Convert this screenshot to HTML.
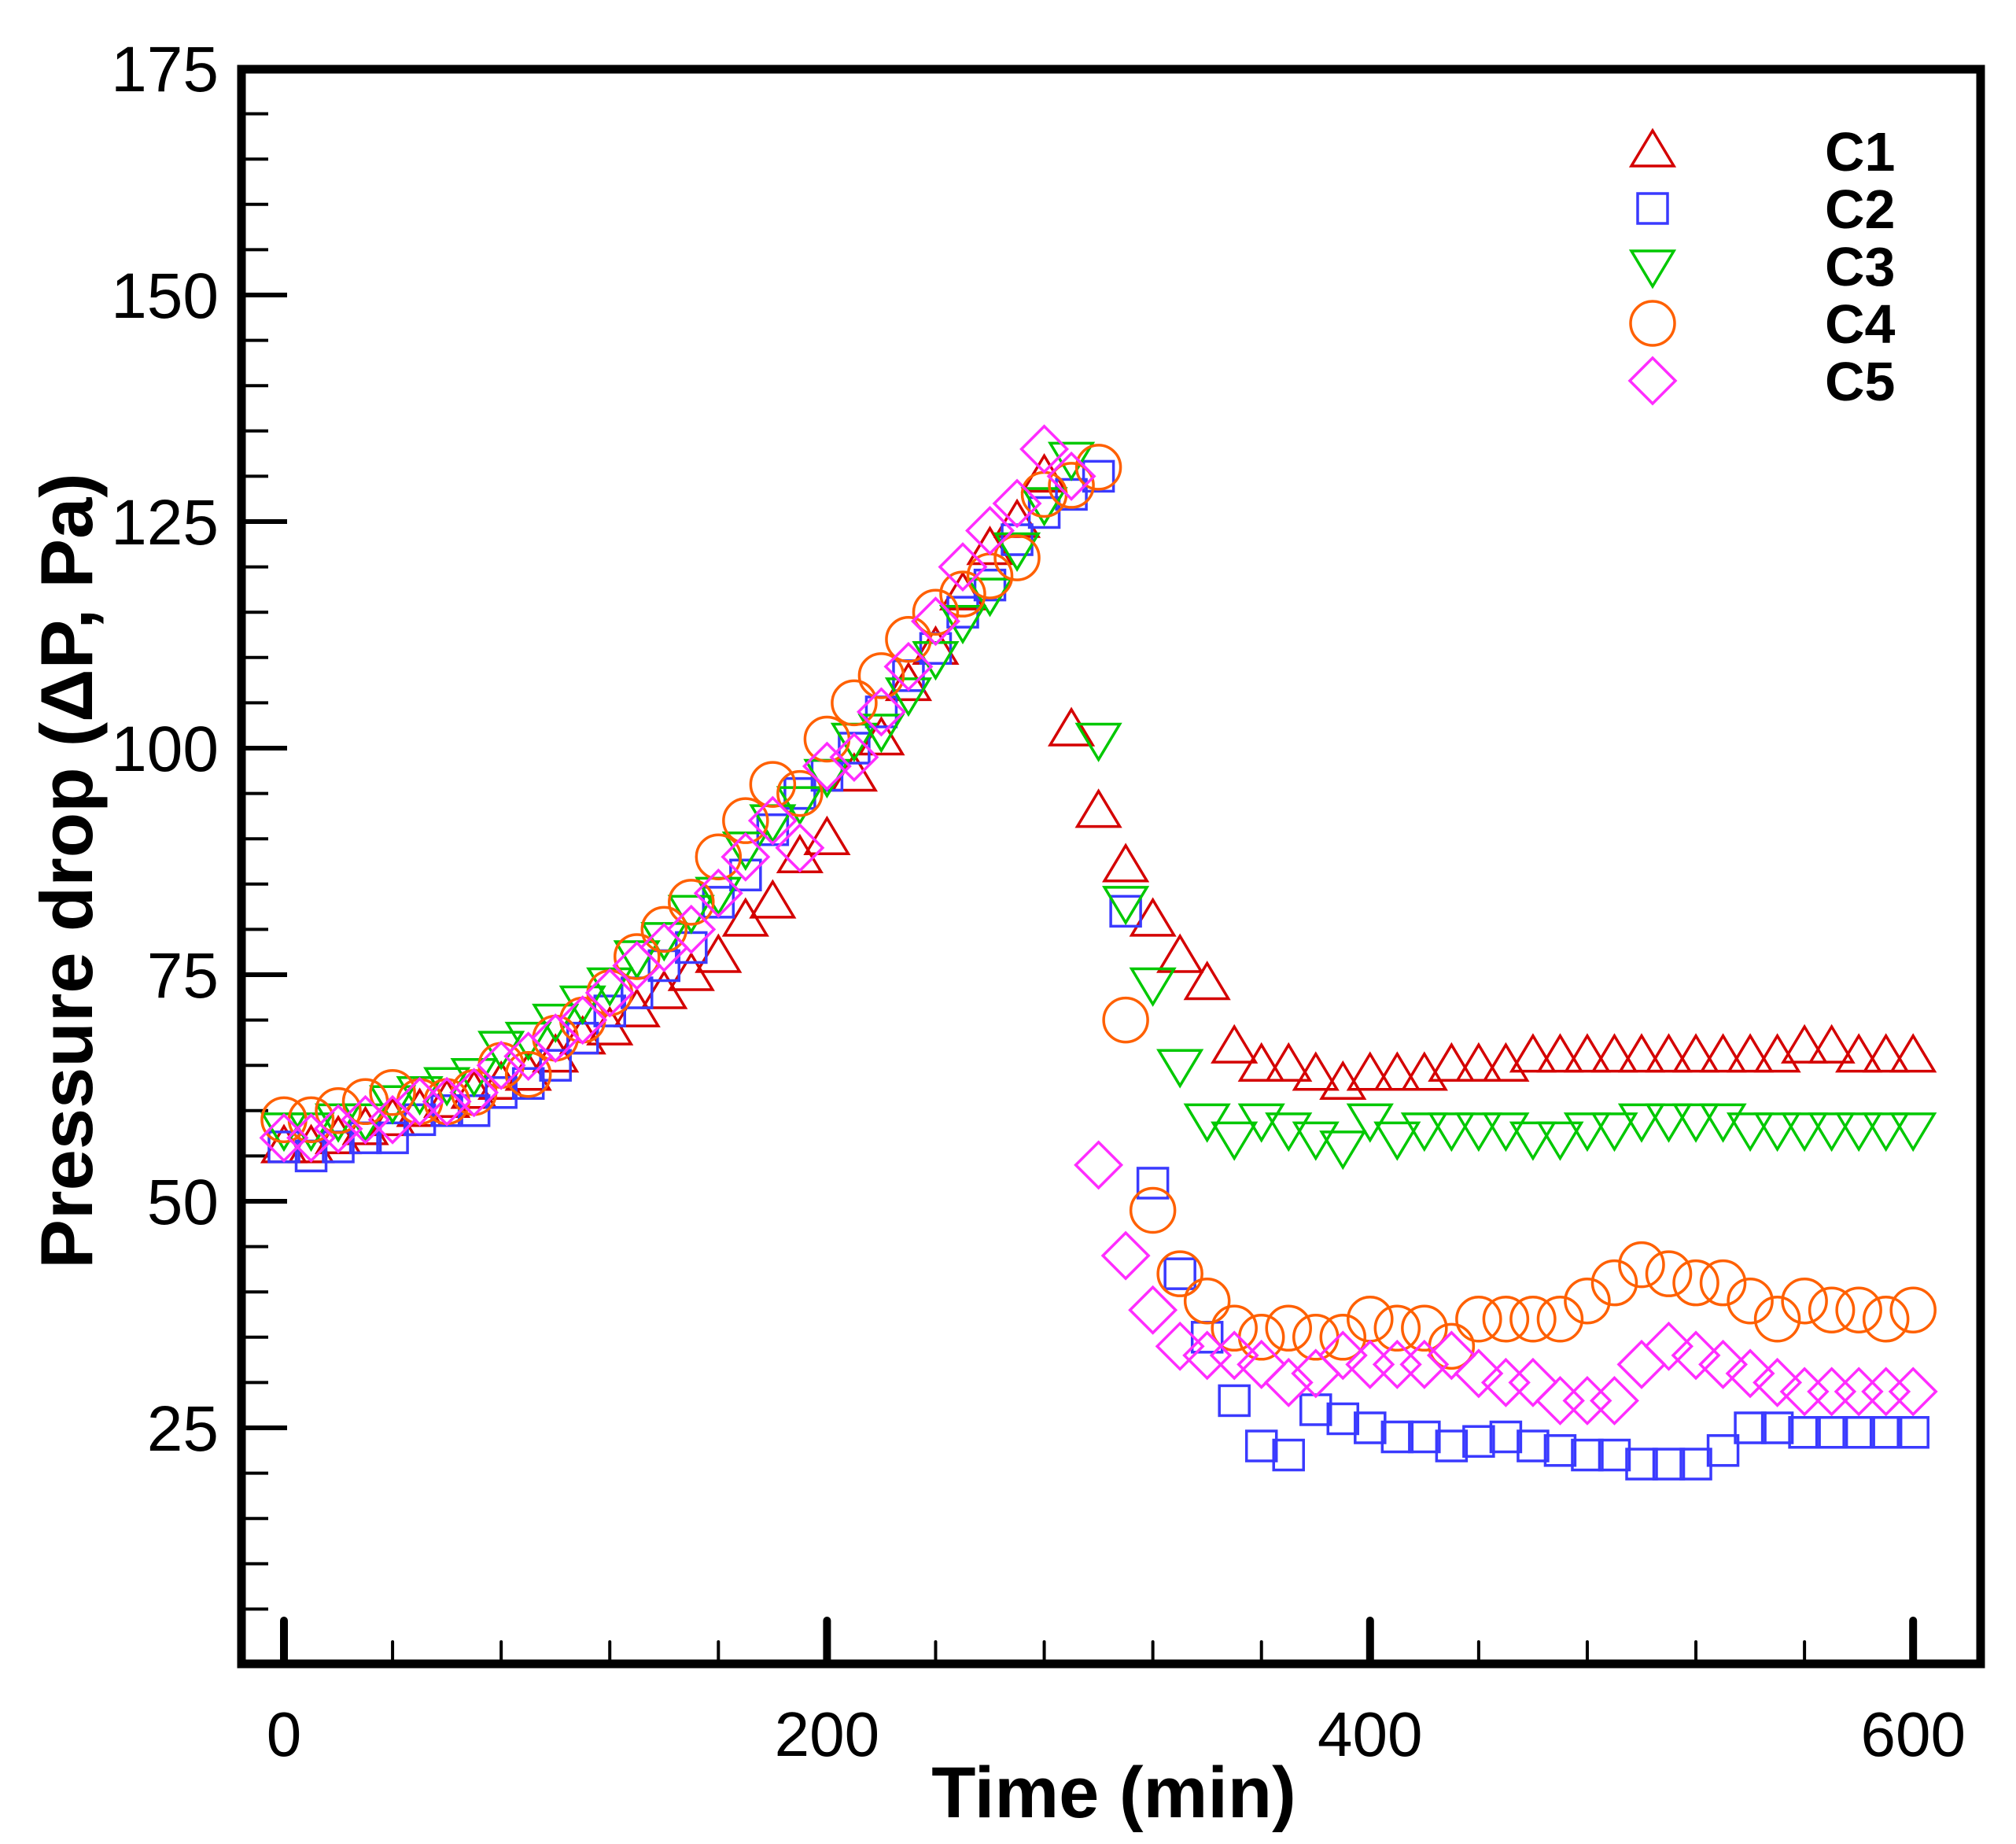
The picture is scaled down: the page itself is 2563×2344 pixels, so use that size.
<!DOCTYPE html>
<html><head><meta charset="utf-8"><style>
html,body{margin:0;padding:0;background:#fff}
svg{display:block}
text{font-family:"Liberation Sans",Arial,sans-serif}
</style></head><body>
<svg id="chart" width="2563" height="2344" viewBox="0 0 2563 2344" xmlns="http://www.w3.org/2000/svg">
<g id="ticks"></g>
<g id="labels"></g>
<g id="marks"></g>
<rect x="307" y="88" width="2211" height="2027" fill="none" stroke="#000" stroke-width="11"/>
<text x="1416" y="2310" font-size="92" font-weight="bold" text-anchor="middle">Time (min)</text>
<text transform="translate(117,1107) rotate(-90)" font-size="94" font-weight="bold" text-anchor="middle">Pressure drop (ΔP, Pa)</text>
<g id="legend"></g>
</svg>
<script>
const times=[0,10,20,30,40,50,60,70,80,90,100,110,120,130,140,150,160,170,180,190,200,210,220,230,240,250,260,270,280,290,300,310,320,330,340,350,360,370,380,390,400,410,420,430,440,450,460,470,480,490,500,510,520,530,540,550,560,570,580,590,600];
const c1=[56,56,57,58,59,60,61,62,63,64,66,68,69,71,73,75,77,81,83,88,90,97,101,107,111,117,122,125,130,102,93,87,81,77,74,67,65,65,64,63,64,64,64,65,65,65,66,66,66,66,66,66,66,66,66,66,67,67,66,66,66];
const c2=[56,55,56,57,57,59,60,60,62,63,65,68,71,73,76,78,83,86,91,95,97,100,104,108,111,115,118,123,126,128,130,82,52,42,35,28,23,22,27,26,25,24,24,23,23.5,24,23,22.5,22,22,21,21,21,22.5,25,25,24.5,24.5,24.5,24.5,24.5];
const c3=[58,58,59,59,61,62,63,64,67,68,70,72,74,77,79,82,84,89,92,94,97,101,102,106,110,114,117,122,127,132,101,83,74,65,59,57,59,58,57,56,59,57,58,58,58,58,57,57,58,58,59,59,59,59,58,58,58,58,58,58,58];
const c4=[59,59,60,61,62,61,61,62,65,64,68,70,73,77,80,83,88,92,96,95,101,105,108,112,115,117,119,121,128,129,131,70,49,42,39,36,35,36,35,35,37,36,36,34,37,37,37,37,39,41,43,42,41,41,39,37,39,38,38,37,38];
const c5=[57,57,58,59,59,61,61,62,65,66,68,70,73,76,78,80,84,88,92,89,98,99,104,109,114,120,124,127,133,130,54,44,38,34,33,33,32,30,31,33,32,32,32,33,31,30,30,28,28,28,32,34,33,32,31,30,29,29,29,29,29];
const seriesNames=["C1","C2","C3","C4","C5"];
const yMajor=[25,50,75,100,125,150,175];
const xMajor=[0,200,400,600];

const NS="http://www.w3.org/2000/svg";
function X(t){return 361+t*3.452;}
function Y(v){return 87+(175-v)*11.52;}
function mk(tag,attrs,parent){const e=document.createElementNS(NS,tag);for(const k in attrs)e.setAttribute(k,attrs[k]);parent.appendChild(e);return e;}
const ticks=document.getElementById('ticks'),labels=document.getElementById('labels'),marks=document.getElementById('marks'),legend=document.getElementById('legend');

for(let v=5;v<175;v+=5){const major=v%25===0;
 const l=mk('line',{x1:307,x2:307+(major?58:34),y1:Y(v),y2:Y(v),stroke:'#000','stroke-width':major?6:4},ticks);
 
 }
yMajor.forEach(v=>{const t=mk('text',{x:278,y:Y(v)+29,'font-size':82,'text-anchor':'end'},labels);t.textContent=v;
 
 });
for(let t=0;t<=600;t+=40){const major=t%200===0;
 const l=mk('line',{x1:X(t),x2:X(t),y1:2115,y2:2115-(major?55:28),stroke:'#000','stroke-width':major?10:4,'stroke-linecap':'round'},ticks);
 
 }
xMajor.forEach(v=>{const t=mk('text',{x:X(v),y:2232,'font-size':80,'text-anchor':'middle'},labels);t.textContent=v;
 
 });

const colors=['#d40000','#3a3aff','#00c800','#ff6000','#ff2cff'];
function marker(kind,x,y,color,parent){let e;
 const sw=3.5;
 if(kind===0){e=mk('polygon',{points:`${x},${y-26} ${x-27},${y+19} ${x+27},${y+19}`,fill:'none',stroke:color,'stroke-width':sw},parent);}
 else if(kind===1){e=mk('rect',{x:x-19,y:y-19,width:38,height:38,fill:'none',stroke:color,'stroke-width':sw},parent);}
 else if(kind===2){e=mk('polygon',{points:`${x},${y+26} ${x-27},${y-19} ${x+27},${y-19}`,fill:'none',stroke:color,'stroke-width':sw},parent);}
 else if(kind===3){e=mk('circle',{cx:x,cy:y,r:28,fill:'none',stroke:color,'stroke-width':sw},parent);}
 else {e=mk('polygon',{points:`${x},${y-29} ${x+29},${y} ${x},${y+29} ${x-29},${y}`,fill:'none',stroke:color,'stroke-width':sw},parent);}
 return e;}
[c1,c2,c3,c4,c5].forEach((arr,si)=>{
 const g=mk('g',{},marks);
 
 
 arr.forEach((v,i)=>{const e=marker(si,X(times[i]),Y(v),colors[si],g);
  
  });
});
seriesNames.forEach((n,i)=>{const y=192+i*73;
 const g=mk('g',{},legend);
 
 
 marker(i,2101,y,colors[i],g);
 const t=mk('text',{x:2320,y:y+25,'font-size':70,'font-weight':'bold'},g);t.textContent=n;});
</script>
</body></html>
